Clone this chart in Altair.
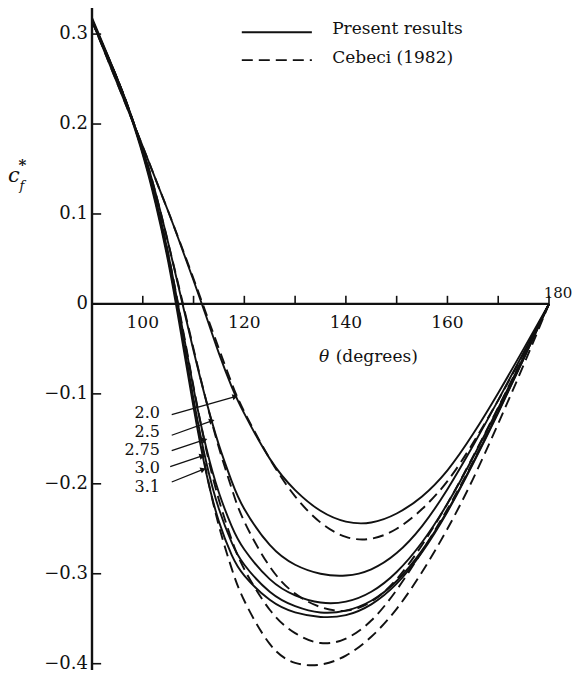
import math
import altair as alt
import pandas as pd

# ---------------- data ----------------
theta = [90, 95, 97.5, 100, 102.5, 105, 107.5, 110, 112.5, 115, 117.5, 120,
         125, 130, 135, 140, 145, 150, 155, 160, 165, 170, 175, 180]

present_20 = [0.315, 0.245, 0.210, 0.175, 0.139, 0.103, 0.065, 0.026, -0.014, -0.055, -0.092, -0.122,
              -0.172, -0.207, -0.230, -0.242, -0.243, -0.233, -0.214, -0.185, -0.145, -0.099, -0.050, 0.0]
present_25 = [0.315, 0.248, 0.212, 0.172, 0.124, 0.068, 0.008, -0.052, -0.108, -0.157, -0.197, -0.228,
              -0.268, -0.290, -0.300, -0.302, -0.295, -0.277, -0.247, -0.206, -0.158, -0.107, -0.054, 0.0]
present_275 = [0.315, 0.250, 0.213, 0.170, 0.118, 0.056, -0.018, -0.094, -0.160, -0.210, -0.247, -0.273,
               -0.306, -0.324, -0.332, -0.331, -0.320, -0.298, -0.265, -0.222, -0.171, -0.116, -0.059, 0.0]
present_30 = [0.316, 0.250, 0.212, 0.168, 0.115, 0.051, -0.026, -0.106, -0.176, -0.228, -0.265, -0.290,
              -0.320, -0.336, -0.343, -0.341, -0.330, -0.308, -0.274, -0.230, -0.177, -0.120, -0.061, 0.0]
present_31 = [0.318, 0.250, 0.211, 0.166, 0.112, 0.047, -0.032, -0.115, -0.188, -0.242, -0.279, -0.302,
              -0.329, -0.343, -0.348, -0.346, -0.334, -0.311, -0.276, -0.231, -0.178, -0.121, -0.061, 0.0]

cebeci_20 = [0.315, 0.245, 0.210, 0.175, 0.139, 0.103, 0.066, 0.028, -0.011, -0.050, -0.088, -0.120,
             -0.172, -0.214, -0.243, -0.259, -0.261, -0.250, -0.228, -0.197, -0.155, -0.107, -0.055, 0.0]
cebeci_25 = [0.315, 0.248, 0.212, 0.172, 0.124, 0.068, 0.010, -0.050, -0.108, -0.160, -0.205, -0.242,
             -0.292, -0.322, -0.337, -0.341, -0.331, -0.306, -0.268, -0.222, -0.170, -0.115, -0.058, 0.0]
cebeci_275 = [0.315, 0.250, 0.213, 0.170, 0.118, 0.056, -0.016, -0.092, -0.162, -0.218, -0.262, -0.295,
              -0.340, -0.366, -0.377, -0.372, -0.352, -0.318, -0.275, -0.228, -0.176, -0.119, -0.060, 0.0]
cebeci_30 = [0.316, 0.250, 0.212, 0.168, 0.115, 0.051, -0.026, -0.110, -0.186, -0.247, -0.294, -0.330,
             -0.378, -0.399, -0.401, -0.391, -0.370, -0.339, -0.298, -0.250, -0.195, -0.133, -0.068, 0.0]

sources = ["Present results", "Cebeci (1982)"]

y_tick_values = [0.3, 0.2, 0.1, 0.0, -0.1, -0.2, -0.3, -0.4]
y_tick_labels = ["0.3", "0.2", "0.1", "0", "\u22120.1", "\u22120.2", "\u22120.3", "\u22120.4"]
x_tick_values = [100, 110, 120, 130, 140, 150, 160, 170, 180]
x_label_values = [100, 120, 140, 160]
x_label_texts = ["100", "120", "140", "160"]

param_labels = ["2.0", "2.5", "2.75", "3.0", "3.1"]
label_cf = [-0.121, -0.142, -0.162, -0.182, -0.203]
arrow_start_theta = [105.7, 105.7, 105.7, 105.4, 105.7]
arrow_start_cf = [-0.123, -0.146, -0.163, -0.181, -0.198]
arrow_tip_theta = [118.2, 113.6, 112.2, 111.7, 111.9]
arrow_tip_cf = [-0.103, -0.130, -0.151, -0.169, -0.184]

# ---------------- layout ----------------
X_DOM = [90, 180]
Y_DOM = [-0.407, 0.329]
W, H = 457, 662
FONT = "DejaVu Serif"
FS = 17
INK = "#111111"
DASH = [11, 6]

xs = alt.Scale(domain=X_DOM, nice=False, zero=False)
ys = alt.Scale(domain=Y_DOM, nice=False, zero=False)


def long(series):
    rows = []
    for name, vals in series:
        for t, c in zip(theta, vals):
            rows.append({"theta": t, "cf": c, "curve": name})
    return pd.DataFrame(rows)


df_p = long([("2.0", present_20), ("2.5", present_25), ("2.75", present_275),
             ("3.0", present_30), ("3.1", present_31)])
df_c = long([("2.0", cebeci_20), ("2.5", cebeci_25), ("2.75", cebeci_275), ("3.0", cebeci_30)])

enc = dict(x=alt.X("theta:Q", scale=xs, axis=None), y=alt.Y("cf:Q", scale=ys, axis=None),
           detail="curve:N")
curves_p = alt.Chart(df_p).mark_line(interpolate="natural", strokeWidth=1.9, color=INK).encode(**enc)
curves_c = alt.Chart(df_c).mark_line(interpolate="natural", strokeWidth=1.9, color=INK,
                                     strokeDash=DASH).encode(**enc)


def pos(xf="x", yf="y"):
    return dict(x=alt.X(xf + ":Q", scale=xs, axis=None), y=alt.Y(yf + ":Q", scale=ys, axis=None))


def txt(df, **kw):
    base = dict(font=FONT, fontSize=FS, baseline="middle", color=INK)
    base.update(kw)
    return alt.Chart(df).mark_text(**base).encode(**pos(), text="t:N")


# axes
axis_lines = pd.DataFrame({"x": [90, 90], "x2": [90, 180], "y": [Y_DOM[0], 0.0], "y2": [Y_DOM[1], 0.0]})
axes = alt.Chart(axis_lines).mark_rule(color=INK, strokeWidth=2.4).encode(**pos(), x2="x2:Q", y2="y2:Q")

yt = pd.DataFrame({"x": [90] * len(y_tick_values), "x2": [91.8] * len(y_tick_values), "y": y_tick_values})
yticks = alt.Chart(yt).mark_rule(color=INK, strokeWidth=1.6).encode(**pos(), x2="x2:Q")

xt = pd.DataFrame({"x": x_tick_values, "y": [0.0] * len(x_tick_values), "y2": [0.009] * len(x_tick_values)})
xticks = alt.Chart(xt).mark_rule(color=INK, strokeWidth=1.6).encode(**pos(), y2="y2:Q")

ylabels = txt(pd.DataFrame({"x": [89.2] * len(y_tick_values), "y": y_tick_values, "t": y_tick_labels}),
              align="right", fontSize=18)
xlabels = txt(pd.DataFrame({"x": x_label_values, "y": [-0.021] * len(x_label_values), "t": x_label_texts}),
              align="center")
xlabel_end = txt(pd.DataFrame({"x": [184.6], "y": [0.012], "t": ["180"]}), align="right", fontSize=15)

xtitle_a = txt(pd.DataFrame({"x": [135.7], "y": [-0.059], "t": ["\u03b8"]}), align="center", fontStyle="italic")
xtitle_b = txt(pd.DataFrame({"x": [138.0], "y": [-0.059], "t": ["(degrees)"]}), align="left")

# y title  c_f^*
ytitle_c = txt(pd.DataFrame({"x": [74.6], "y": [0.142], "t": ["c"]}), align="center",
               fontStyle="italic", fontSize=21)
ytitle_f = txt(pd.DataFrame({"x": [76.2], "y": [0.131], "t": ["f"]}), align="center",
               fontStyle="italic", fontSize=13)
ytitle_s = txt(pd.DataFrame({"x": [76.3], "y": [0.154], "t": ["*"]}), align="center",
               fontWeight="bold", fontSize=15)

# legend
leg_solid = alt.Chart(pd.DataFrame({"x": [119.5], "x2": [133.3], "y": [0.302]})).mark_rule(
    color=INK, strokeWidth=1.9).encode(**pos(), x2="x2:Q")
leg_dash = alt.Chart(pd.DataFrame({"x": [119.5], "x2": [133.3], "y": [0.271]})).mark_rule(
    color=INK, strokeWidth=1.9, strokeDash=DASH).encode(**pos(), x2="x2:Q")
leg_text = txt(pd.DataFrame({"x": [137.3, 137.3], "y": [0.306, 0.273], "t": sources}), align="left")

# parameter labels with arrows
px_per_deg = W / (X_DOM[1] - X_DOM[0])
px_per_unit = H / (Y_DOM[1] - Y_DOM[0])
angles = []
for sx, sy, tx, ty in zip(arrow_start_theta, arrow_start_cf, arrow_tip_theta, arrow_tip_cf):
    dx = (tx - sx) * px_per_deg
    dy = -(ty - sy) * px_per_unit
    angles.append(math.degrees(math.atan2(dy, dx)) % 360)

arr = pd.DataFrame({"x": arrow_start_theta, "y": arrow_start_cf, "x2": arrow_tip_theta, "y2": arrow_tip_cf,
                    "ang": angles, "t": param_labels, "ly": label_cf, "lx": [103.4] * len(param_labels)})
arrow_lines = alt.Chart(arr).mark_rule(color=INK, strokeWidth=1.3).encode(**pos(), x2="x2:Q", y2="y2:Q")
arrow_heads = alt.Chart(arr).mark_point(shape="triangle-right", filled=True, size=40, color=INK,
                                        opacity=1).encode(**pos("x2", "y2"), angle=alt.Angle("ang:Q", scale=None))
param_text = alt.Chart(arr).mark_text(font=FONT, fontSize=16, align="right", baseline="middle",
                                      color=INK).encode(**pos("lx", "ly"), text="t:N")

chart = alt.layer(
    axes, yticks, xticks, curves_p, curves_c, ylabels, xlabels, xlabel_end, xtitle_a, xtitle_b,
    ytitle_c, ytitle_f, ytitle_s, leg_solid, leg_dash, leg_text, arrow_lines, arrow_heads, param_text,
).properties(
    width=W, height=H,
    padding={"left": 84, "top": 0, "right": 25, "bottom": 6},
    autosize=alt.AutoSizeParams(type="none"),
    background="white",
).configure_view(stroke=None)

chart.save("out.html", embed_options={"renderer": "svg", "actions": False})
